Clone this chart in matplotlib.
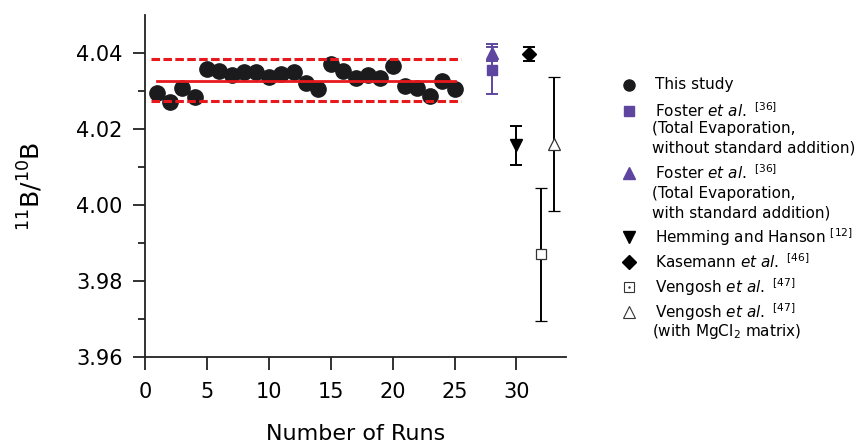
import matplotlib
matplotlib.use("Agg")
import matplotlib.pyplot as plt
import numpy as np

plt.rcParams['font.family'] = ['DejaVu Sans']
plt.rcParams['mathtext.fontset'] = 'dejavusans'

# ---- data ----
runs = list(range(1, 26))
ratios = [4.0294, 4.0272, 4.0309, 4.0283, 4.0357, 4.0353, 4.0342, 4.0349, 4.0351,
          4.0338, 4.0345, 4.0351, 4.0322, 4.0305, 4.0371, 4.0353, 4.0333, 4.0342,
          4.0333, 4.0367, 4.0313, 4.0307, 4.0287, 4.0327, 4.0305]
mean_val = 4.0327
upper_val = 4.0383
lower_val = 4.0275

foster_wo = (28, 4.0355, 0.0062)
foster_w = (28, 4.0401, 0.0022)
hemming = (30, 4.0157, 0.0052)
kasemann = (31, 4.0397, 0.0018)
vengosh = (32, 3.9871, 0.0175)
vengosh_mg = (33, 4.0160, 0.0176)

xticks = [0, 5, 10, 15, 20, 25, 30]
yticks = [3.96, 3.98, 4.00, 4.02, 4.04]

purple = '#5e46a0'
dark = '#1b1b1d'

W, H = 855, 444
fig = plt.figure(figsize=(W / 100, H / 100), dpi=100)
ax = fig.add_axes([145 / W, 1 - 357 / H, (566 - 145) / W, (357 - 15) / H])

ax.plot([0.5, 25.5], [upper_val, upper_val], color='#e8191c', lw=2.2, ls=(0, (2.8, 1.1)), zorder=3)
ax.plot([0.5, 25.5], [lower_val, lower_val], color='#e8191c', lw=2.2, ls=(0, (2.8, 1.1)), zorder=3)
ax.plot([1, 25], [mean_val, mean_val], color='#e8191c', lw=2.0, zorder=3)
ax.plot(runs, ratios, 'o', color=dark, ms=11, zorder=2, mec=dark)

ebkw = dict(capsize=4, elinewidth=1.4, capthick=1.4, ls='none')
ax.errorbar(foster_wo[0], foster_wo[1], yerr=foster_wo[2], marker='s', ms=7,
            color=purple, **ebkw)
ax.errorbar(foster_w[0], foster_w[1], yerr=foster_w[2], marker='^', ms=8,
            color=purple, **ebkw)
ax.errorbar(hemming[0], hemming[1], yerr=hemming[2], marker='v', ms=8,
            color='black', **ebkw)
ax.errorbar(kasemann[0], kasemann[1], yerr=kasemann[2], marker='D', ms=7.5,
            color='black', **ebkw)
ax.errorbar(vengosh[0], vengosh[1], yerr=vengosh[2], marker='s', ms=7, mfc='white',
            mec='#333333', mew=0.9, color='black', **ebkw)
ax.errorbar(vengosh_mg[0], vengosh_mg[1], yerr=vengosh_mg[2], marker='^', ms=8, mfc='white',
            mec='#333333', mew=0.9, color='black', **ebkw)

ax.set_xlim(0, 34)
ax.set_ylim(3.96, 4.05)
ax.set_xticks(xticks)
ax.set_yticks(yticks)
ax.set_yticklabels([f"{v:.2f}" for v in yticks])
ax.set_yticks([3.97, 3.99, 4.01, 4.03], minor=True)
for s in ['top', 'right']:
    ax.spines[s].set_visible(False)
for s in ['left', 'bottom']:
    ax.spines[s].set_linewidth(1.3)
    ax.spines[s].set_color('#222222')
ax.tick_params(axis='both', which='major', length=9, width=1.3, labelsize=15,
               color='#222222')
ax.tick_params(axis='x', which='major', pad=9)
ax.tick_params(axis='y', which='major', pad=7)
ax.tick_params(axis='y', which='minor', length=5, width=1.3, color='#222222')
ax.set_xlabel('Number of Runs', fontsize=16, labelpad=16)
ax.set_ylabel(r'$^{11}$B/$^{10}$B', fontsize=18, labelpad=22)

# ---- legend drawn manually (pixel coordinates) ----
lax = fig.add_axes([0, 0, 1, 1], facecolor='none')
lax.set_xlim(0, W)
lax.set_ylim(H, 0)
lax.axis('off')
mx, tx = 629, 655
fs = 11
entries = [
    (85, dict(marker='o', color=dark, ms=8), 'This study'),
    (110.7, dict(marker='s', color=purple, ms=7), r'Foster $\it{et\ al.}$ $^{[36]}$'),
    (173, dict(marker='^', color=purple, ms=8), r'Foster $\it{et\ al.}$ $^{[36]}$'),
    (236.7, dict(marker='v', color='black', ms=8), r'Hemming and Hanson $^{[12]}$'),
    (261.7, dict(marker='D', color='black', ms=7), r'Kasemann $\it{et\ al.}$ $^{[46]}$'),
    (286.7, dict(marker='s', mfc='white', mec='#333333', mew=0.8, ms=7), r'Vengosh $\it{et\ al.}$ $^{[47]}$'),
    (311.7, dict(marker='^', mfc='white', mec='#333333', mew=0.8, ms=8), r'Vengosh $\it{et\ al.}$ $^{[47]}$'),
]
for y, mk, label in entries:
    lax.plot([mx], [y], ls='none', **mk)
    lax.text(tx, y, label, fontsize=fs, va='center', ha='left')
lax.plot([mx], [286.7], ls='none', marker='.', ms=1.5, color='#333333')
extra = [
    (128, '(Total Evaporation,'),
    (148, 'without standard addition)'),
    (193, '(Total Evaporation,'),
    (213, 'with standard addition)'),
    (331.7, r'(with MgCl$_2$ matrix)'),
]
for y, t in extra:
    lax.text(tx - 3, y, t, fontsize=fs, va='center', ha='left')

fig.savefig('out.png', dpi=100)
